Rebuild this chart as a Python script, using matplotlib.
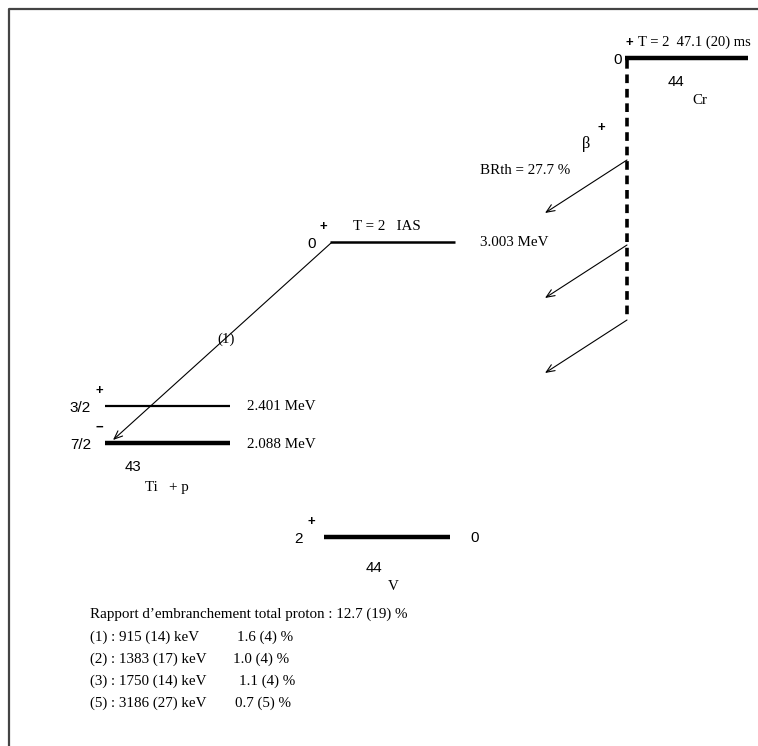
import matplotlib
matplotlib.use("Agg")
import matplotlib.pyplot as plt

# ---- data ----
level_names = ["44Cr", "IAS", "3/2+", "7/2-", "44V"]
level_spins = ["0", "0", "3/2", "7/2", "2"]
level_parity = ["+", "+", "+", "\u2212", "+"]
level_energy_labels = ["", "3.003 MeV", "2.401 MeV", "2.088 MeV", "0"]
level_top_labels = ["T = 2  47.1 (20) ms", "T = 2   IAS", "", "", ""]
brth_label = "BRth = 27.7 %"
proton_label = "(1)"
summary_title = "Rapport d\u2019embranchement total proton : 12.7 (19) %"
summary_ids = ["(1)", "(2)", "(3)", "(5)"]
summary_energies = ["915 (14) keV", "1383 (17) keV", "1750 (14) keV", "3186 (27) keV"]
summary_br = ["1.6 (4) %", "1.0 (4) %", "1.1 (4) %", "0.7 (5) %"]

# ---- layout (pixel coordinates) ----
W, H = 758, 746
fig = plt.figure(figsize=(W / 100, H / 100), dpi=100)
ax = fig.add_axes([0, 0, 1, 1])
ax.set_xlim(0, W)
ax.set_ylim(H, 0)
ax.axis("off")

SERIF = "Liberation Serif"
SANS = "Liberation Sans"
fs = 10.8

# frame
ax.plot([9, 9, W], [H, 9, 9], color="#444444", lw=1.6, solid_capstyle="butt")

# levels: x0, x1, y, lw
lv_x0 = [625, 330, 105, 105, 324]
lv_x1 = [748, 455, 230, 230, 450]
lv_y = [58, 242, 406, 443, 537]
lv_lw = [3.2, 1.8, 1.6, 3.2, 3.2]
spin_x = [622, 316, 91, 91, 303]
for i in range(len(level_names)):
    ax.plot([lv_x0[i], lv_x1[i]], [lv_y[i], lv_y[i]], color="black",
            lw=lv_lw[i], solid_capstyle="butt")
    ax.text(spin_x[i], lv_y[i] + 2, level_spins[i], family=SANS, fontsize=11,
            ha="right", va="center")
    ax.text(spin_x[i] + 4, lv_y[i] - 15, level_parity[i], family=SANS,
            fontsize=9.5, ha="left", va="center", fontweight="bold")

# top labels
ax.text(638, 42, level_top_labels[0], family=SERIF, fontsize=10.5, ha="left", va="center")
ax.text(353, 227, level_top_labels[1], family=SERIF, fontsize=fs, ha="left", va="center")

# energy labels
en_x = [None, 480, 247, 247, 470]
for i in range(1, len(level_names)):
    fam = SANS if level_energy_labels[i] == "0" else SERIF
    ax.text(en_x[i], lv_y[i] + 1, level_energy_labels[i], family=fam,
            fontsize=fs, ha="left", va="center")

# nucleus labels
ax.text(668, 82, "44", family=SANS, fontsize=fs, ha="left", va="center")
ax.text(692, 100, "Cr", family=SERIF, fontsize=fs, ha="left", va="center")
ax.text(125, 467, "43", family=SANS, fontsize=fs, ha="left", va="center")
ax.text(145, 488, "Ti   + p", family=SERIF, fontsize=fs, ha="left", va="center")
ax.text(366, 568, "44", family=SANS, fontsize=fs, ha="left", va="center")
ax.text(388, 586, "V", family=SERIF, fontsize=fs, ha="left", va="center")

# beta decay dashed line
ax.plot([627, 627], [60, 320], color="black", lw=2.6, ls=(0, (2.4, 1.6)),
        solid_capstyle="butt", dash_capstyle="butt")
ax.text(582, 144, "\u03b2", family=SERIF, fontsize=fs + 1, ha="left", va="center")
ax.text(597, 128, "+", family=SANS, fontsize=9.5, ha="left", va="center",
        fontweight="bold")
ax.text(480, 170, brth_label, family=SERIF, fontsize=fs, ha="left", va="center")

arrow_kw = dict(arrowstyle="->,head_length=0.6,head_width=0.25", color="black",
                lw=0.8, shrinkA=0, shrinkB=0)
beta_y0 = [160, 245, 320]
for y0 in beta_y0:
    ax.annotate("", xy=(545, y0 + 53), xytext=(627, y0), arrowprops=arrow_kw)

# proton arrow (1)
ax.annotate("", xy=(113, 440), xytext=(331, 243), arrowprops=arrow_kw)
ax.text(217, 339, proton_label, family=SERIF, fontsize=fs, ha="left", va="center")

# summary text
ax.text(90, 614, summary_title, family=SERIF, fontsize=fs, ha="left", va="center")
br_x = [237, 233, 239, 235]
for i in range(len(summary_ids)):
    y = 637 + 22 * i
    ax.text(90, y, f"{summary_ids[i]} : {summary_energies[i]}", family=SERIF,
            fontsize=fs, ha="left", va="center")
    ax.text(br_x[i], y, summary_br[i], family=SERIF, fontsize=fs,
            ha="left", va="center")

fig.savefig("out.png", dpi=100, facecolor="white")
